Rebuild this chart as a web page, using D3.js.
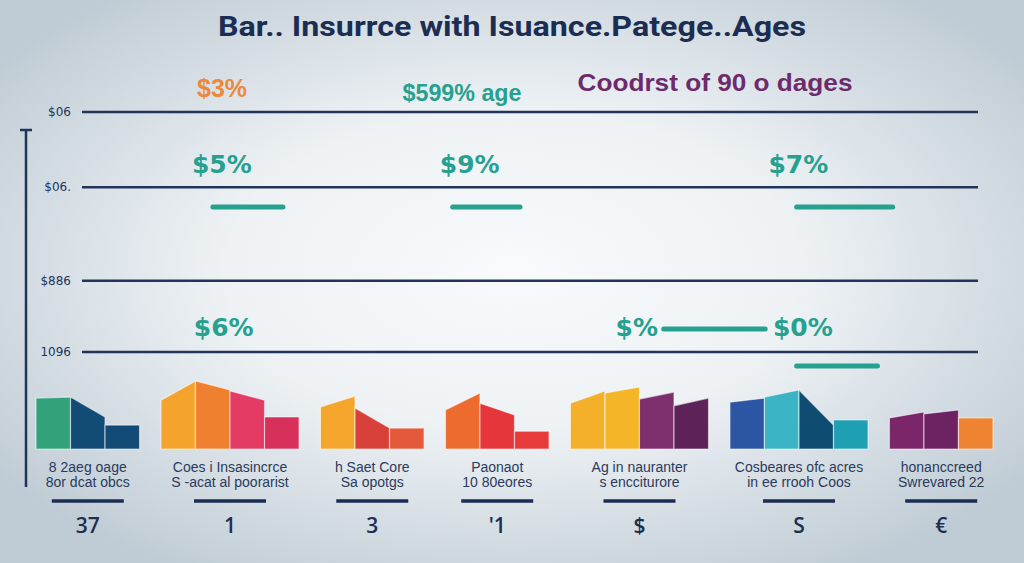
<!DOCTYPE html>
<html><head><meta charset="utf-8">
<script src="https://cdn.jsdelivr.net/npm/d3@7"></script>
<style>html,body{margin:0;padding:0;overflow:hidden;background:#e9eef2}</style>
</head><body>
<svg id="c" width="1024" height="563"></svg>
<script>
// ---------- data ----------
const titleText = "Bar.. Insurrce with  Isuance.Patege..Ages";
const headerLabels = ["$3%", "$599% age", "Coodrst of 90 o dages"];
const gridValues = [100, 77.7, 49.9, 28.8];
const gridLabels = ["$06", "$06.", "$886", "1096"];
const categoryLine1 = ["8 2aeg oage", "Coes i Insasincrce", "h Saet Core", "Paonaot", "Ag in nauranter", "Cosbeares ofc acres", "honanccreed"];
const categoryLine2 = ["8or dcat obcs", "S -acat al poorarist", "Sa opotgs", "10 80eores", "s encciturore", "in ee rrooh Coos", "Swrevared 22"];
const categoryMarks = ["37", "1", "3", "'1", "$", "S", "€"];
const barGroup = [0,0,0, 1,1,1,1, 2,2,2, 3,3,3, 4,4,4,4, 5,5,5,5, 6,6,6];
const barStartValue = [15.1,15.4,7.1, 14.5,20.2,17.2,9.5, 12.5,12.2,6.2, 11.6,13.6,5.3, 13.6,16.6,14.8,12.8, 13.9,15.4,17.5,8.6, 9.2,10.4,9.2];
const barEndValue   = [15.4,9.5,7.1,  20.2,17.5,14.5,9.5, 15.7,6.2,6.2,  16.6,10.1,5.3, 17.2,18.4,16.9,15.1, 15.1,17.5,7.1,8.6,  11.0,11.6,9.2];
const annotationLabels = ["$5%", "$9%", "$7%", "$6%", "$%", "$0%"];
const annotationX = [15.8, 43.4, 80.0, 16.0, 62.0, 80.5];
const annotationY = [84.6, 84.6, 84.6, 36.2, 36.2, 36.2];
const dashFrom = [14.8, 41.5, 79.8, 65.0, 79.8];
const dashTo   = [22.6, 49.0, 90.5, 76.3, 88.8];
const dashY    = [71.8, 71.8, 71.8, 35.6, 24.6];

// ---------- styles ----------
const barColors = ["#31a27a","#124b75","#124b75", "#f4a42c","#ee802f","#e33b63","#d6305b",
  "#f3a62b","#d8413a","#e3593a", "#ee6b2f","#e5373b","#e73a3b",
  "#f4b02a","#f5b528","#7e2f6e","#5d2257", "#2c55a3","#3bb4c6","#0f4c72","#1e9fb2",
  "#7a2668","#6d2262","#ee8432"];
const navy = "#22345a", teal = "#26a190";

const svg = d3.select("#c");
const defs = svg.append("defs");
const rg = defs.append("radialGradient").attr("id","bg").attr("cx","50%").attr("cy","48%").attr("r","62%");
rg.append("stop").attr("offset","0%").attr("stop-color","#f8fafc");
rg.append("stop").attr("offset","45%").attr("stop-color","#eef2f5");
rg.append("stop").attr("offset","100%").attr("stop-color","#c0ccd5");
svg.append("rect").attr("width",1024).attr("height",563).attr("fill","url(#bg)");

// ---------- scales ----------
const y = d3.scaleLinear().domain([0, 100]).range([449, 112]);
const gapFrac = 0.62;
const nBars = barGroup.length, nGroups = categoryLine1.length;
const x = d3.scaleLinear().domain([0, nBars + (nGroups - 1) * gapFrac]).range([36, 993]);
const xAnn = d3.scaleLinear().domain([0, 100]).range([80, 978]);
const slot = i => i + barGroup[i] * gapFrac;
const groupCenter = g => {
  const idx = d3.range(nBars).filter(i => barGroup[i] === g);
  return (x(slot(idx[0])) + x(slot(idx[idx.length - 1]) + 1)) / 2;
};

// ---------- title & header ----------
svg.append("text").attr("x", 512).attr("y", 36).attr("text-anchor","middle")
  .attr("font-family","Roboto, 'Liberation Sans', sans-serif").attr("font-weight","bold")
  .attr("font-size", 28).attr("fill", "#1b2d52")
  .attr("textLength", 588).attr("lengthAdjust","spacingAndGlyphs").text(titleText);

const headerCfg = [
  {cx: 222, y: 97, fill: "#ea8a3c", size: 25, len: 50},
  {cx: 462, y: 101, fill: teal, size: 24, len: 119},
  {cx: 715, y: 91, fill: "#6d2a6c", size: 24, len: 275}
];
svg.selectAll("text.hdr").data(headerLabels).join("text").attr("class","hdr")
  .attr("x", (d,i) => headerCfg[i].cx).attr("y", (d,i) => headerCfg[i].y)
  .attr("text-anchor","middle").attr("font-family","'Liberation Sans', Arial, sans-serif")
  .attr("font-weight","bold").attr("font-size", (d,i) => headerCfg[i].size)
  .attr("fill", (d,i) => headerCfg[i].fill)
  .attr("textLength", (d,i) => headerCfg[i].len).attr("lengthAdjust","spacingAndGlyphs")
  .text(d => d);

// ---------- grid ----------
svg.selectAll("line.grid").data(gridValues).join("line").attr("class","grid")
  .attr("x1", 82).attr("x2", 978).attr("y1", d => y(d)).attr("y2", d => y(d))
  .attr("stroke", navy).attr("stroke-width", 2.5);
svg.selectAll("text.glab").data(gridLabels).join("text").attr("class","glab")
  .attr("x", 71).attr("y", (d,i) => y(gridValues[i]) + 4).attr("text-anchor","end")
  .attr("font-family","'DejaVu Sans', sans-serif").attr("font-size", 12)
  .attr("fill", navy).text(d => d);

// vertical axis
svg.append("line").attr("x1",26).attr("x2",26).attr("y1",130).attr("y2",487).attr("stroke",navy).attr("stroke-width",2.5);
svg.append("line").attr("x1",20).attr("x2",32).attr("y1",130).attr("y2",130).attr("stroke",navy).attr("stroke-width",2.5);

// ---------- annotations ----------
svg.selectAll("line.dash").data(dashY).join("line").attr("class","dash")
  .attr("x1", (d,i) => xAnn(dashFrom[i])).attr("x2", (d,i) => xAnn(dashTo[i]))
  .attr("y1", d => y(d)).attr("y2", d => y(d))
  .attr("stroke", teal).attr("stroke-width", 5).attr("stroke-linecap","round");
svg.selectAll("text.ann").data(annotationLabels).join("text").attr("class","ann")
  .attr("x", (d,i) => xAnn(annotationX[i])).attr("y", (d,i) => y(annotationY[i]) + 9)
  .attr("text-anchor","middle").attr("font-family","'DejaVu Sans', sans-serif")
  .attr("font-weight","bold").attr("font-size", 25).attr("fill", teal).text(d => d);

// ---------- bars ----------
svg.selectAll("path.bar").data(barGroup).join("path").attr("class","bar")
  .attr("d", (g,i) => {
    const x0 = x(slot(i)), x1 = x(slot(i) + 1);
    return `M${x0},${y(0)}L${x0},${y(barStartValue[i])}L${x1},${y(barEndValue[i])}L${x1},${y(0)}Z`;
  })
  .attr("fill", (g,i) => barColors[i])
  .attr("stroke", "rgba(255,255,255,0.55)").attr("stroke-width", 1.2);

// ---------- category labels ----------
const lab = svg.append("g").attr("font-family","'Liberation Sans', Arial, sans-serif").attr("fill","#2a3a5c").attr("text-anchor","middle");
lab.selectAll("text.l1").data(categoryLine1).join("text").attr("class","l1")
  .attr("x", (d,i) => groupCenter(i)).attr("y", 472).attr("font-size", 14).text(d => d);
lab.selectAll("text.l2").data(categoryLine2).join("text").attr("class","l2")
  .attr("x", (d,i) => groupCenter(i)).attr("y", 487).attr("font-size", 14).text(d => d);
svg.selectAll("line.ul").data(categoryMarks).join("line").attr("class","ul")
  .attr("x1", (d,i) => groupCenter(i) - 36).attr("x2", (d,i) => groupCenter(i) + 36)
  .attr("y1", 501).attr("y2", 501).attr("stroke", "#1c2c52").attr("stroke-width", 3.5);
svg.selectAll("text.mk").data(categoryMarks).join("text").attr("class","mk")
  .attr("x", (d,i) => groupCenter(i)).attr("y", 533).attr("text-anchor","middle")
  .attr("font-family","'Open Sans', 'DejaVu Sans', sans-serif").attr("font-weight", 600).attr("font-size", 21)
  .attr("fill", "#1e2e50").text(d => d);
</script>
</body></html>
